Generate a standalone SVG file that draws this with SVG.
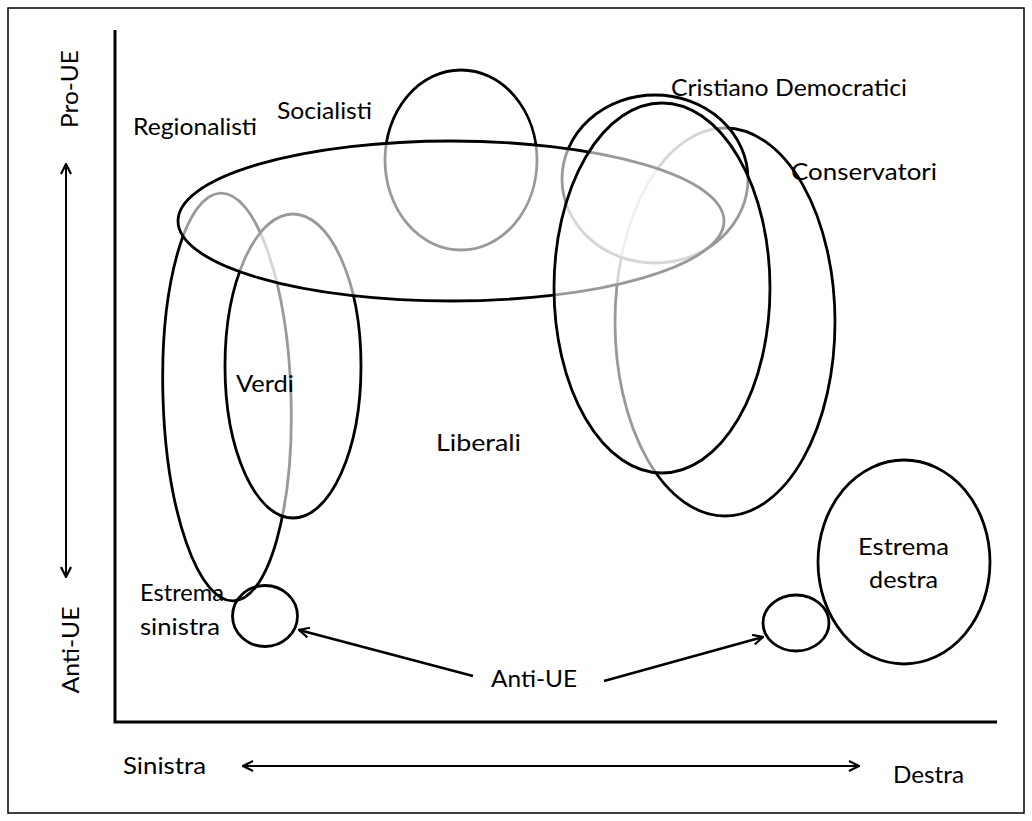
<svg xmlns="http://www.w3.org/2000/svg" width="1032" height="821" viewBox="0 0 1032 821">
  <style>
    .bg { fill: #ffffff; }
    .frame { fill: none; stroke: #000; stroke-width: 1.5; }
    .axis { fill: none; stroke: #000; stroke-width: 3; }
    .grp { fill: #ffffff; fill-opacity: 0.6; stroke: #000; stroke-width: 2.8; }
    .solid { fill: none; stroke: #000; stroke-width: 2.8; }
    .lbl { font-family: Lato, "Open Sans", "Liberation Sans", sans-serif; font-size: 24px; fill: #000; }
    .conn { fill: none; stroke: #000; stroke-width: 2.8; }
    .dir { fill: none; stroke: #000; stroke-width: 2; }
  </style>
  <defs>
    <marker id="head" viewBox="0 0 12 12" refX="11" refY="6" markerWidth="12" markerHeight="12" markerUnits="userSpaceOnUse" orient="auto-start-reverse">
      <path d="M1,1 L11,6 L1,11" fill="none" stroke="#000" stroke-width="2.2"/>
    </marker>
  </defs>

  <rect class="bg" x="0" y="0" width="1032" height="821"/>
  <rect class="frame" x="8" y="8" width="1016" height="805"/>

  <!-- axes -->
  <g id="axes">
    <path class="axis" d="M115,30 L115,722 L997,722"/>
  </g>

  <!-- party families: translucent fills grey out strokes underneath -->
  <g id="conservatori"><ellipse class="grp" cx="725" cy="322" rx="110" ry="194"/></g>
  <g id="cristiano-b"><ellipse class="grp" cx="655" cy="179" rx="93" ry="84"/></g>
  <g id="socialisti"><ellipse class="grp" cx="461" cy="160" rx="76" ry="90"/></g>
  <g id="sinistra-ampia"><ellipse class="grp" cx="227" cy="397" rx="64" ry="204" transform="rotate(-1.8 227 397)"/></g>
  <g id="verdi"><ellipse class="grp" cx="293" cy="366" rx="68" ry="152"/></g>
  <g id="regionalisti"><ellipse class="grp" cx="451" cy="221" rx="273" ry="80"/></g>
  <g id="cristiano-a"><ellipse class="grp" cx="662" cy="288" rx="108" ry="185"/></g>

  <g id="estrema-sinistra"><ellipse class="solid" cx="265" cy="616" rx="32.5" ry="30.5"/></g>
  <g id="anti-ue-destra"><ellipse class="solid" cx="796" cy="623" rx="33" ry="28"/></g>
  <g id="estrema-destra"><ellipse class="solid" cx="904" cy="562" rx="86" ry="102"/></g>

  <!-- connectors -->
  <g id="connectors">
    <line class="conn" x1="473" y1="676" x2="299" y2="630" marker-end="url(#head)"/>
    <line class="conn" x1="604" y1="681" x2="763" y2="637" marker-end="url(#head)"/>
    <line class="dir" x1="66" y1="164" x2="66" y2="577" marker-start="url(#head)" marker-end="url(#head)"/>
    <line class="dir" x1="243" y1="766" x2="859" y2="766" marker-start="url(#head)" marker-end="url(#head)"/>
  </g>

  <!-- labels -->
  <g id="labels">
    <text class="lbl" x="133" y="135" textLength="124" lengthAdjust="spacingAndGlyphs">Regionalisti</text>
    <text class="lbl" x="277" y="119" textLength="95" lengthAdjust="spacingAndGlyphs">Socialisti</text>
    <text class="lbl" x="671" y="96" textLength="236" lengthAdjust="spacingAndGlyphs">Cristiano Democratici</text>
    <text class="lbl" x="791" y="180" textLength="146" lengthAdjust="spacingAndGlyphs">Conservatori</text>
    <text class="lbl" x="236" y="392" textLength="58" lengthAdjust="spacingAndGlyphs">Verdi</text>
    <text class="lbl" x="436" y="451" textLength="85" lengthAdjust="spacingAndGlyphs">Liberali</text>
    <text class="lbl" x="858" y="555" textLength="91" lengthAdjust="spacingAndGlyphs">Estrema</text>
    <text class="lbl" x="869" y="588" textLength="69" lengthAdjust="spacingAndGlyphs">destra</text>
    <text class="lbl" x="140" y="601" textLength="84" lengthAdjust="spacingAndGlyphs">Estrema</text>
    <text class="lbl" x="140" y="635" textLength="80" lengthAdjust="spacingAndGlyphs">sinistra</text>
    <text class="lbl" x="491" y="687" textLength="86" lengthAdjust="spacingAndGlyphs">Anti-UE</text>
    <text class="lbl" x="123" y="774" textLength="83" lengthAdjust="spacingAndGlyphs">Sinistra</text>
    <text class="lbl" x="893" y="783" textLength="71" lengthAdjust="spacingAndGlyphs">Destra</text>
    <text class="lbl" transform="translate(78 89) rotate(-90)" x="-39" y="0" textLength="78" lengthAdjust="spacingAndGlyphs">Pro-UE</text>
    <text class="lbl" transform="translate(79 650) rotate(-90)" x="-43.5" y="0" textLength="87" lengthAdjust="spacingAndGlyphs">Anti-UE</text>
  </g>
</svg>
